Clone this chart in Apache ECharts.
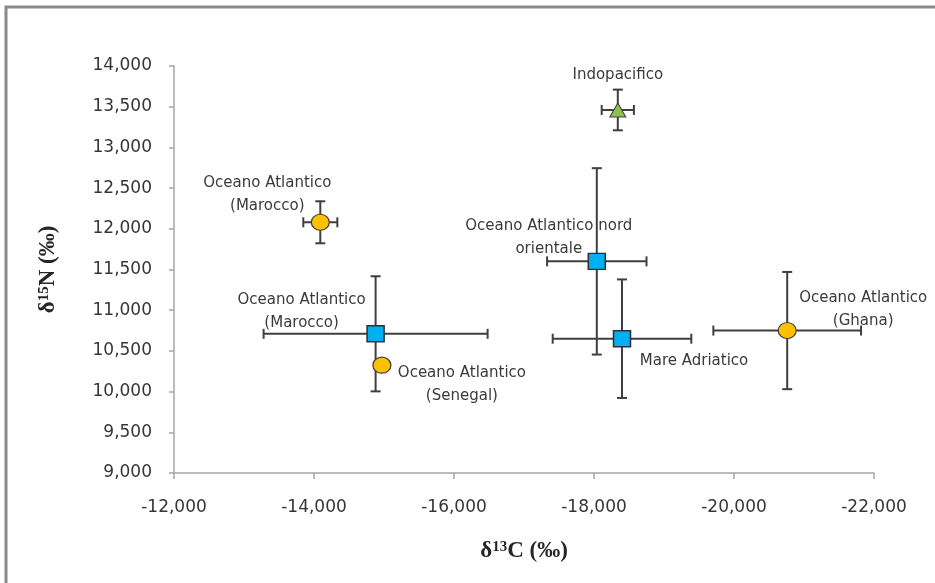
<!DOCTYPE html>
<html>
<head>
<meta charset="utf-8">
<script src="https://cdn.jsdelivr.net/npm/echarts@6/dist/echarts.min.js"></script>
<style>
html,body{margin:0;padding:0;background:#fff;}
#chart{width:935px;height:583px;}
</style>
</head>
<body>
<div id="chart"></div>
<script>
// Data (δ13C, δ15N, error x, error y)
var circlePoints = [
  // [x, y, xErr, yErr, label]
  [-14090, 12080, 243, 258, 'Oceano Atlantico\n(Marocco)'],
  [-14970, 10325, 0, 0, 'Oceano Atlantico\n(Senegal)'],
  [-20760, 10750, 1055, 720, 'Oceano Atlantico\n(Ghana)']
];
var squarePoints = [
  [-14880, 10710, 1600, 707, 'Oceano Atlantico\n(Marocco)'],
  [-18040, 11600, 710, 1145, 'Oceano Atlantico nord\norientale'],
  [-18400, 10650, 990, 728, 'Mare Adriatico']
];
var trianglePoints = [
  [-18340, 13460, 230, 250, 'Indopacifico']
];
// label offsets [dx, dy] relative to the point
var circleLabelOffsets = [[-53, -28], [80, 19], [76, -21]];
var squareLabelOffsets = [[-74, -22], [-48, -24], [72, 22]];
var triangleLabelOffsets = [[0, -35]];

var xTicks = {min: -22000, max: -12000, interval: 2000};
var yTicks = {min: 9000, max: 14000, interval: 500};

var allPoints = circlePoints.concat(squarePoints).concat(trianglePoints);

function fmt(v){
  var s = Math.abs(v).toString().replace(/\B(?=(\d{3})+(?!\d))/g, ',');
  return (v < 0 ? '-' : '') + s;
}

var barColor = '#3f3f3f';
function errorRender(params, api){
  var x = api.value(0), y = api.value(1), ex = api.value(2), ey = api.value(3);
  var children = [];
  var cap = 5;
  var style = {stroke: barColor, lineWidth: 2};
  if (ex > 0){
    var a = api.coord([x - ex, y]), b = api.coord([x + ex, y]);
    children.push({type:'line', shape:{x1:a[0],y1:a[1],x2:b[0],y2:b[1]}, style:style});
    children.push({type:'line', shape:{x1:a[0],y1:a[1]-cap,x2:a[0],y2:a[1]+cap}, style:style});
    children.push({type:'line', shape:{x1:b[0],y1:b[1]-cap,x2:b[0],y2:b[1]+cap}, style:style});
  }
  if (ey > 0){
    var c = api.coord([x, y - ey]), d = api.coord([x, y + ey]);
    children.push({type:'line', shape:{x1:c[0],y1:c[1],x2:d[0],y2:d[1]}, style:style});
    children.push({type:'line', shape:{x1:c[0]-cap,y1:c[1],x2:c[0]+cap,y2:c[1]}, style:style});
    children.push({type:'line', shape:{x1:d[0]-cap,y1:d[1],x2:d[0]+cap,y2:d[1]}, style:style});
  }
  return {type:'group', children: children};
}

function mkData(points, offsets){
  return points.map(function(p, i){
    return {
      value: [p[0], p[1]],
      name: p[4],
      label: {offset: offsets[i]}
    };
  });
}

var labelStyle = {
  show: true,
  position: 'inside',
  formatter: '{b}',
  fontFamily: 'DejaVu Sans',
  fontSize: 15,
  color: '#3a3a3a',
  lineHeight: 23,
  align: 'center',
  verticalAlign: 'middle'
};

var nameRich = {
  a: {fontFamily: 'Liberation Serif', fontWeight: 'bold', fontSize: 23, color: '#262626'},
  s: {fontFamily: 'Liberation Serif', fontWeight: 'bold', fontSize: 15, color: '#262626', verticalAlign: 'top'}
};

var chart = echarts.init(document.getElementById('chart'), null, {renderer:'canvas'});
chart.setOption({
  backgroundColor: '#ffffff',
  animation: false,
  graphic: [{
    type: 'rect',
    shape: {x: 6, y: 7, width: 1000, height: 700},
    style: {fill: 'none', stroke: '#8a8a8a', lineWidth: 3},
    z: 100
  }],
  grid: {left: 174, top: 66, width: 700, height: 407},
  xAxis: {
    type: 'value',
    inverse: true,
    min: xTicks.min, max: xTicks.max, interval: xTicks.interval,
    splitLine: {show: false},
    axisLine: {lineStyle: {color: '#a6a6a6', width: 1.5}},
    axisTick: {length: 6, lineStyle: {color: '#a6a6a6', width: 1.5}},
    axisLabel: {
      formatter: fmt, margin: 26,
      fontFamily: 'DejaVu Sans', fontSize: 17, color: '#363636'
    },
    name: '{a|δ}{s|13}{a|C (‰)}',
    nameLocation: 'middle',
    nameGap: 67,
    nameTextStyle: {rich: nameRich}
  },
  yAxis: {
    type: 'value',
    min: yTicks.min, max: yTicks.max, interval: yTicks.interval,
    splitLine: {show: false},
    axisLine: {show: true, lineStyle: {color: '#a6a6a6', width: 1.5}},
    axisTick: {show: true, length: 5, lineStyle: {color: '#a6a6a6', width: 1.5}},
    axisLabel: {
      formatter: fmt, margin: 22,
      fontFamily: 'DejaVu Sans', fontSize: 17, color: '#363636'
    },
    name: '{a|δ}{s|15}{a|N (‰)}',
    nameLocation: 'middle',
    nameRotate: 90,
    nameGap: 114,
    nameTextStyle: {rich: nameRich}
  },
  series: [
    {
      type: 'custom',
      renderItem: errorRender,
      data: allPoints.map(function(p){ return [p[0], p[1], p[2], p[3]]; }),
      z: 2,
      silent: true
    },
    {
      type: 'scatter',
      symbol: 'circle',
      symbolSize: [18, 16],
      itemStyle: {color: '#FFC000', borderColor: '#404040', borderWidth: 1.2, opacity: 1},
      data: mkData(circlePoints, circleLabelOffsets),
      label: labelStyle,
      z: 3
    },
    {
      type: 'scatter',
      symbol: 'rect',
      symbolSize: [17, 16],
      itemStyle: {color: '#00B0F0', borderColor: '#303030', borderWidth: 1.5, opacity: 1},
      data: mkData(squarePoints, squareLabelOffsets),
      label: labelStyle,
      z: 3
    },
    {
      type: 'scatter',
      symbol: 'triangle',
      symbolSize: [16, 14],
      itemStyle: {color: '#8CC152', borderColor: '#404040', borderWidth: 1, opacity: 1},
      data: mkData(trianglePoints, triangleLabelOffsets),
      label: labelStyle,
      z: 3
    }
  ]
});
</script>
</body>
</html>
